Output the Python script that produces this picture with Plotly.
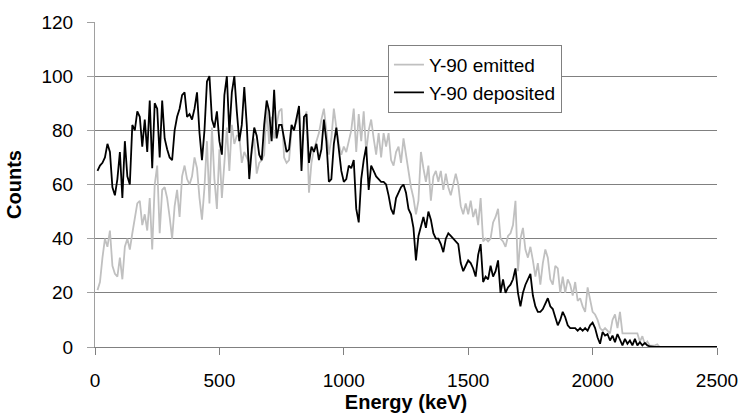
import plotly.graph_objects as go

# Energy bins (keV)
energy_kev = list(range(10, 2510, 10))

# Y-90 emitted (grey), counts per 10 keV bin
emitted = [
    21, 24, 33, 40, 37, 43, 30, 27, 26, 33,
    25, 37, 40, 36, 42, 48, 53, 54, 45, 49,
    43, 55, 36, 60, 67, 42, 58, 59, 55, 48,
    40, 52, 58, 48, 63, 67, 62, 60, 63, 70,
    66, 55, 47, 59, 76, 53, 81, 62, 51, 73,
    55, 68, 81, 65, 82, 75, 78, 78, 68, 72,
    70, 68, 72, 77, 64, 68, 69, 71, 89, 75,
    85, 77, 82, 87, 88, 70, 68, 69, 80, 81,
    83, 87, 72, 81, 87, 57, 68, 73, 76, 79,
    84, 88, 80, 71, 77, 88, 81, 75, 71, 74,
    72, 76, 80, 88, 72, 86, 76, 87, 72, 80,
    84, 77, 71, 79, 70, 79, 74, 79, 69, 67,
    72, 74, 68, 77, 71, 66, 59, 55, 49, 54,
    72, 66, 61, 67, 54, 63, 65, 61, 65, 58,
    64, 59, 56, 60, 64, 60, 52, 49, 53, 49,
    54, 48, 51, 45, 55, 39, 40, 39, 40, 46,
    48, 51, 40, 39, 37, 41, 42, 45, 54, 28,
    40, 44, 36, 33, 37, 32, 26, 31, 23, 31,
    36, 33, 25, 23, 30, 29, 20, 26, 20, 25,
    23, 19, 24, 17, 18, 15, 13, 22, 17, 13,
    12, 10, 7, 6, 7, 6, 5, 10, 12, 7,
    13, 5, 5, 5, 5, 5, 5, 5, 2, 4,
    1, 2, 0.5, 0.5, 0.5, 1, 0, 0, 0, 0,
    0, 0, 0, 0, 0, 0, 0, 0, 0, 0,
    0, 0, 0, 0, 0, 0, 0, 0, 0, 0,
]

# Y-90 deposited (black), counts per 10 keV bin
deposited = [
    65, 67, 68, 70, 75, 72, 59, 56, 62, 72,
    55, 76, 63, 60, 82, 80, 87, 85, 74, 84,
    72, 91, 66, 90, 88, 70, 91, 77, 73, 70,
    69, 80, 85, 88, 93, 94, 85, 86, 84, 88,
    94, 79, 69, 80, 98, 100, 84, 81, 87, 76,
    71, 93, 100, 79, 94, 100, 87, 76, 82, 96,
    82, 62, 73, 81, 78, 71, 69, 82, 91, 87,
    76, 95, 77, 82, 82, 77, 72, 73, 82, 80,
    84, 89, 65, 85, 86, 68, 74, 72, 75, 69,
    73, 84, 76, 61, 62, 75, 81, 73, 65, 61,
    62, 67, 66, 69, 51, 46, 62, 69, 74, 58,
    67, 65, 63, 62, 61, 61, 60, 56, 51, 49,
    55, 57, 59, 60, 57, 51, 49, 44, 32, 41,
    45, 48, 44, 50, 47, 42, 40, 40, 38, 35,
    40, 42, 41, 40, 39, 38, 31, 28, 30, 32,
    31, 29, 26, 34, 38, 24, 26, 25, 30, 26,
    28, 32, 20, 25, 20, 22, 23, 25, 29, 20,
    15, 20, 23, 25, 27, 19, 15, 13, 13, 14,
    16, 18, 15, 14, 11, 8, 10, 13, 11, 8,
    7, 7, 7, 6, 7, 6, 7, 6, 8, 9,
    7, 3.5, 1.2, 5.5, 4.2, 4.8, 2.4, 4.2, 1.8, 4.8,
    3, 0.6, 3, 1.2, 2.4, 0.6, 3, 0.6, 1.8, 0.6,
    1.5, 0.6, 0.2, 0, 0, 0, 0, 0, 0, 0,
    0, 0, 0, 0, 0, 0, 0, 0, 0, 0,
    0, 0, 0, 0, 0, 0, 0, 0, 0, 0,
]

x_ticks = [0, 500, 1000, 1500, 2000, 2500]
y_ticks = [0, 20, 40, 60, 80, 100, 120]

FONT = "Liberation Sans, Arial, sans-serif"

fig = go.Figure()
fig.add_trace(go.Scatter(x=energy_kev, y=emitted, mode="lines", name="Y-90 emitted",
                         line=dict(color="#c0c0c0", width=1.8)))
fig.add_trace(go.Scatter(x=energy_kev, y=deposited, mode="lines", name="Y-90 deposited",
                         line=dict(color="#000000", width=1.8)))

fig.update_layout(
    width=750, height=420,
    margin=dict(l=95, r=27, t=18, b=72),
    paper_bgcolor="white", plot_bgcolor="white",
    font=dict(family=FONT, size=19, color="black"),
    showlegend=True,
    legend=dict(x=0.471, y=0.93, xanchor="left", yanchor="top",
                bgcolor="white", bordercolor="#808080", borderwidth=1,
                font=dict(family=FONT, size=19, color="black")),
    xaxis=dict(range=[0, 2500], tickvals=x_ticks, ticks="outside", ticklen=7,
               tickcolor="#808080", showline=True, linecolor="#808080", linewidth=1,
               showgrid=False, zeroline=False, ticklabelstandoff=9,
               title=dict(text="<b>Energy (keV)</b>", font=dict(size=20), standoff=3)),
    yaxis=dict(range=[0, 120], tickvals=y_ticks, ticks="outside", ticklen=7,
               tickcolor="#a0a0a0", showline=True, linecolor="#a0a0a0", linewidth=1,
               showgrid=True, gridcolor="#808080", gridwidth=1, zeroline=False,
               ticklabelstandoff=10,
               title=dict(text="<b>Counts</b>", font=dict(size=20), standoff=14)),
)

fig.write_html("out.html")
